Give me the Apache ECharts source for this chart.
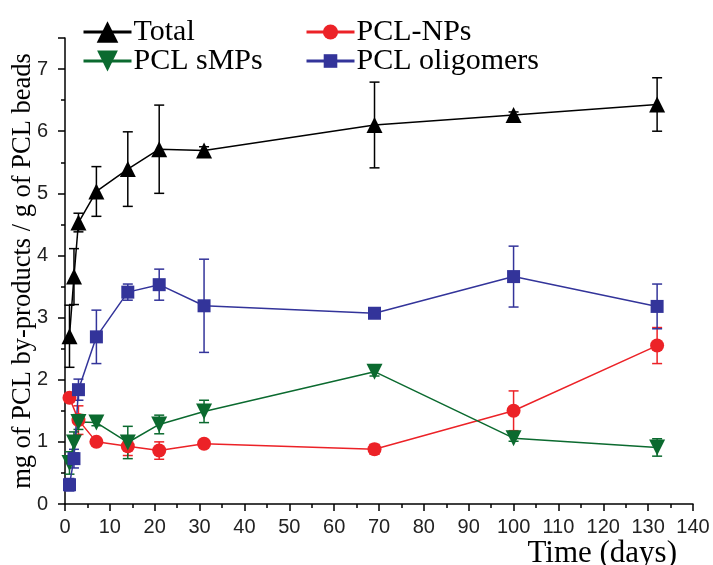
<!DOCTYPE html>
<html>
<head>
<meta charset="utf-8">
<script src="https://cdn.jsdelivr.net/npm/echarts@6/dist/echarts.min.js"></script>
<style>
  html, body { margin: 0; padding: 0; background: #fff; }
  #chart { width: 713px; height: 565px; }
</style>
</head>
<body>
<div id="chart"></div>
<script>
// Sampling times (days) for each fraction
const daysTotal = [1, 2, 3, 7, 14, 21, 31, 69, 100, 132];
const daysNPs = [1, 3, 7, 14, 21, 31, 69, 100, 132];
const daysSMPs = [1, 2, 3, 7, 14, 21, 31, 69, 100, 132];
const daysOligo = [1, 2, 3, 7, 14, 21, 31, 69, 100, 132];

// mg of by-product per g of PCL beads, with standard deviations
const total = [2.70, 3.66, 4.53, 5.03, 5.39, 5.71, 5.69, 6.10, 6.26, 6.43];
const totalErr = [0.50, 0.45, 0.15, 0.40, 0.60, 0.71, 0.06, 0.69, 0.05, 0.43];

const nps = [1.71, 1.35, 1.00, 0.93, 0.86, 0.97, 0.88, 1.50, 2.55];
const npsErr = [0.05, 0.23, 0.04, 0.15, 0.14, 0.05, 0.08, 0.32, 0.29];

const smps = [0.66, 0.99, 1.32, 1.31, 0.99, 1.28, 1.49, 2.13, 1.06, 0.91];
const smpsErr = [0.18, 0.17, 0.12, 0.05, 0.26, 0.15, 0.18, 0.07, 0.05, 0.14];

const oligo = [0.31, 0.73, 1.84, 2.69, 3.41, 3.53, 3.19, 3.07, 3.66, 3.18];
const oligoErr = [0.10, 0.15, 0.17, 0.43, 0.13, 0.25, 0.75, 0.05, 0.49, 0.36];

const seriesNames = ['Total', 'PCL-NPs', 'PCL sMPs', 'PCL oligomers'];
const colors = ['#000000', '#ec2227', '#0b6a2f', '#33349a'];

const serif = '"Liberation Serif", "DejaVu Serif", serif';
const sans = '"Liberation Sans", Arial, sans-serif';

function pairs(xs, ys) {
  return xs.map((x, i) => [x, ys[i]]);
}

function lineSeries(name, xs, ys, color, symbol, size, rotate) {
  return {
    name: name,
    type: 'line',
    data: pairs(xs, ys),
    symbol: symbol,
    symbolSize: size,
    symbolRotate: rotate || 0,
    showSymbol: true,
    lineStyle: { color: color, width: 1.5 },
    itemStyle: { color: color, borderWidth: 0 },
    z: 3
  };
}

// Vertical error bars with short caps, drawn through the axis scales
function errorSeries(xs, ys, es, color) {
  return {
    type: 'custom',
    silent: true,
    z: 2,
    data: xs.map((x, i) => [x, ys[i], es[i]]),
    encode: { x: 0, y: 1 },
    renderItem: function (params, api) {
      const x = api.value(0), y = api.value(1), e = api.value(2);
      const hi = api.coord([x, y + e]);
      const lo = api.coord([x, y - e]);
      const cap = 5;
      const style = { stroke: color, lineWidth: 1.5 };
      return {
        type: 'group',
        children: [
          { type: 'line', shape: { x1: hi[0], y1: hi[1], x2: lo[0], y2: lo[1] }, style: style },
          { type: 'line', shape: { x1: hi[0] - cap, y1: hi[1], x2: hi[0] + cap, y2: hi[1] }, style: style },
          { type: 'line', shape: { x1: lo[0] - cap, y1: lo[1], x2: lo[0] + cap, y2: lo[1] }, style: style }
        ]
      };
    }
  };
}

// One legend block per entry so each icon can carry its own marker size
function legendEntry(name, left, top, iconHeight) {
  return {
    data: [name],
    left: left,
    top: top,
    itemWidth: 48,
    itemHeight: iconHeight,
    lineStyle: { width: 3 },
    textStyle: { fontFamily: serif, fontSize: 30, color: '#000', lineHeight: 29, padding: [0, 0, 0, -3] },
    selectedMode: false
  };
}

const chart = echarts.init(document.getElementById('chart'), null, { renderer: 'canvas' });

chart.setOption({
  backgroundColor: '#ffffff',
  animation: false,
  grid: { left: 65, right: 20, top: 38, bottom: 61, containLabel: false, outerBoundsMode: 'none' },
  legend: [
    legendEntry(seriesNames[0], 77, 12, 27),
    legendEntry(seriesNames[2], 77, 41, 26),
    legendEntry(seriesNames[1], 300, 12, 19),
    legendEntry(seriesNames[3], 300, 41, 17)
  ],
  xAxis: {
    type: 'value',
    min: 0,
    max: 140,
    interval: 10,
    name: 'Time (days)',
    nameLocation: 'end',
    nameGap: -16,
    nameTextStyle: { fontFamily: serif, fontSize: 31, color: '#000', align: 'right', verticalAlign: 'top', padding: [34, 0, 0, 0] },
    axisLine: { lineStyle: { color: '#000', width: 1.5 } },
    axisTick: { inside: false, length: 7, lineStyle: { color: '#000', width: 1.5 } },
    minorTick: { show: true, splitNumber: 2, length: 4, lineStyle: { color: '#000', width: 1.5 } },
    axisLabel: { fontFamily: sans, fontSize: 20, color: '#222', margin: 13 },
    splitLine: { show: false }
  },
  yAxis: {
    type: 'value',
    min: 0,
    max: 7.5,
    interval: 1,
    name: 'mg of PCL by-products / g of PCL beads',
    nameLocation: 'middle',
    nameGap: 28,
    nameMoveOverlap: false,
    nameTextStyle: { fontFamily: serif, fontSize: 26.5, color: '#000' },
    axisLine: { show: true, lineStyle: { color: '#000', width: 1.5 } },
    axisTick: { show: true, inside: false, length: 7, lineStyle: { color: '#000', width: 1.5 } },
    minorTick: { show: true, splitNumber: 2, length: 4, lineStyle: { color: '#000', width: 1.5 } },
    axisLabel: {
      fontFamily: sans, fontSize: 20, color: '#222', margin: 17,
      formatter: function (v) { return Number.isInteger(v) ? String(v) : ''; }
    },
    splitLine: { show: false }
  },
  series: [
    errorSeries(daysTotal, total, totalErr, colors[0]),
    errorSeries(daysNPs, nps, npsErr, colors[1]),
    errorSeries(daysSMPs, smps, smpsErr, colors[2]),
    errorSeries(daysOligo, oligo, oligoErr, colors[3]),
    lineSeries(seriesNames[0], daysTotal, total, colors[0], 'triangle', 16),
    lineSeries(seriesNames[1], daysNPs, nps, colors[1], 'circle', 14),
    lineSeries(seriesNames[2], daysSMPs, smps, colors[2], 'triangle', 16, 180),
    lineSeries(seriesNames[3], daysOligo, oligo, colors[3], 'rect', 13)
  ]
});
</script>
</body>
</html>
